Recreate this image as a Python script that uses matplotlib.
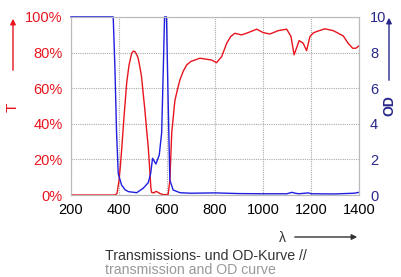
import matplotlib
matplotlib.use("Agg")
import matplotlib.pyplot as plt

# transmission curve (wavelength nm, T in %)
t_wl = [200, 300, 385, 392, 400, 405, 411, 420, 432, 442, 453, 460, 467, 475, 480,
        487, 494, 501, 508, 515, 522, 528, 533, 536,
        545, 554, 562, 571, 585, 605, 612, 620, 633, 647, 654, 668, 682, 700, 717, 737,
        786, 807, 828, 849, 866, 883, 911, 939, 974, 1001, 1029, 1064, 1099, 1117,
        1130, 1151, 1168, 1182, 1196, 1210, 1224, 1258, 1293, 1335, 1355, 1374, 1387, 1400]
t_val = [0, 0, 0, 1, 8, 15, 25, 42, 62.7, 73, 79.6, 80.8, 80.5, 78.5, 76.8,
         72, 66.5, 57, 47.8, 37, 27, 15, 4, 1.5,
         1.2, 2.0, 1.6, 0.8, 0.2, 0.3, 8, 35, 53, 61, 64.6, 69.5, 73, 75, 75.8, 76.8,
         75.8, 74.3, 77.7, 85.2, 89, 90.8, 89.9, 91.2, 93.1, 91.2, 90.4, 92.3, 93.1, 89,
         78.7, 86.7, 85.2, 81, 89, 91, 91.8, 93.3, 92.3, 89.3, 85.2, 82.4, 82.4, 83.7]

# optical density curve
od_wl = [200, 300, 376, 383, 390, 397, 411, 425, 439, 474, 501, 522, 532, 540, 547, 554,
         568, 578, 585, 590, 598, 605, 612, 626, 654, 700, 800, 900, 1000, 1100,
         1120, 1135, 1150, 1190, 1200, 1300, 1380, 1400]
od_val = [10, 10, 10, 7.2, 3.5, 1.2, 0.56, 0.3, 0.19, 0.13, 0.38, 0.69, 1.2, 2.06, 1.9, 1.74,
          2.25, 3.5, 7.2, 10, 10, 5.3, 0.84, 0.28, 0.13, 0.1, 0.12, 0.08, 0.07, 0.07,
          0.15, 0.1, 0.07, 0.12, 0.07, 0.06, 0.1, 0.15]

x_ticks = [200, 400, 600, 800, 1000, 1200, 1400]
t_ticks = [0, 20, 40, 60, 80, 100]
od_ticks = [0, 2, 4, 6, 8, 10]

RED = "#e8141e"
BLUE = "#1f1fe0"
NAVY = "#27278a"

plt.rcParams["font.family"] = ["Liberation Sans", "DejaVu Sans"]

fig = plt.figure(figsize=(4.01, 2.77), dpi=100)
ax = fig.add_axes([0.177, 0.296, 0.718, 0.643])
ax2 = ax.twinx()

ax.plot(t_wl, t_val, color=RED, lw=1.0, zorder=3)
ax2.plot(od_wl, od_val, color=BLUE, lw=1.0, clip_on=False)

ax.set_xlim(200, 1400)
ax.set_ylim(0, 100)
ax2.set_ylim(0, 10)
ax.set_xticks(x_ticks)
ax.set_yticks(t_ticks)
ax.set_yticklabels([f"{v}%" for v in t_ticks], color=RED, fontsize=10.5)
ax2.set_yticks(od_ticks)
ax2.set_yticklabels([str(v) for v in od_ticks], color=NAVY, fontsize=10.5)
ax.set_xticklabels([str(v) for v in x_ticks], fontsize=10.5)

ax.grid(True, color="#aaaaaa", linestyle=(0, (1, 1)), lw=0.8)
ax.tick_params(length=0, pad=6)
ax2.tick_params(length=0, pad=8)
for a in (ax, ax2):
    for s in a.spines.values():
        s.set_color("#bbbbbb")
        s.set_linewidth(0.8)

# axis labels with arrows
fig.text(13 / 401, 1 - 107 / 277, "T", color=RED, rotation=90, fontsize=11,
         ha="center", va="center")
fig.add_artist(matplotlib.patches.FancyArrowPatch(
    (13 / 401, 1 - 73 / 277), (13 / 401, 1 - 16 / 277), transform=fig.transFigure,
    arrowstyle="-|>", mutation_scale=8, color=RED, lw=1))
fig.text(389 / 401, 1 - 106 / 277, "OD", color=NAVY, rotation=90, fontsize=10,
         ha="center", va="center", fontweight="bold")
fig.add_artist(matplotlib.patches.FancyArrowPatch(
    (389 / 401, 1 - 83 / 277), (389 / 401, 1 - 15 / 277), transform=fig.transFigure,
    arrowstyle="-|>", mutation_scale=8, color=NAVY, lw=1))
fig.text(282 / 401, 1 - 238 / 277, "λ", color="#333333", fontsize=10,
         ha="center", va="center")
fig.add_artist(matplotlib.patches.FancyArrowPatch(
    (292 / 401, 1 - 237 / 277), (360 / 401, 1 - 237 / 277), transform=fig.transFigure,
    arrowstyle="-|>", mutation_scale=8, color="#333333", lw=1))

fig.text(105 / 401, 1 - 256 / 277, "Transmissions- und OD-Kurve //", color="#333333",
         fontsize=10.2, ha="left", va="center")
fig.text(105 / 401, 1 - 270 / 277, "transmission and OD curve", color="#999999",
         fontsize=10.2, ha="left", va="center")

fig.savefig("out.png", dpi=100)
